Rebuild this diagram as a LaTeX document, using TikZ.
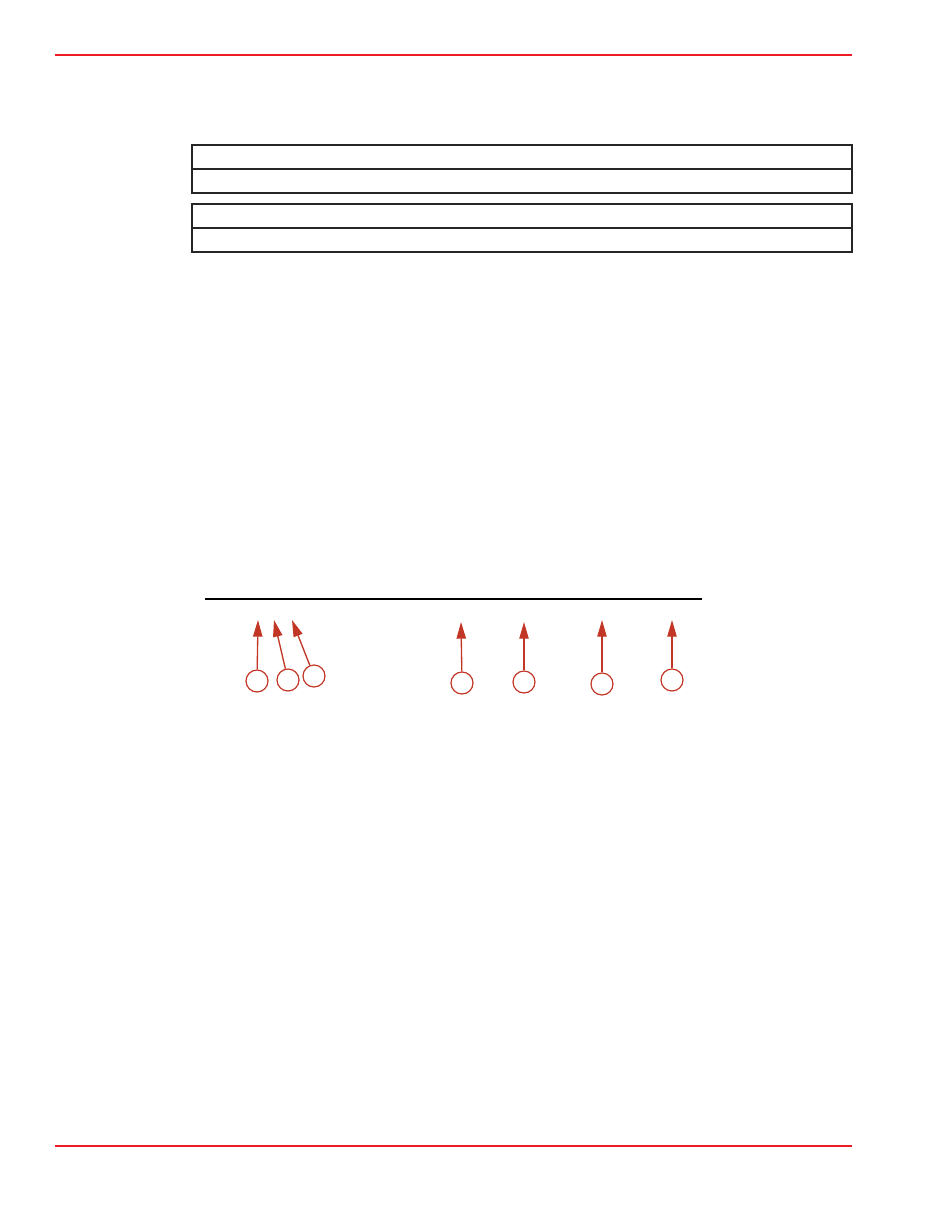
\documentclass[tikz,border=0pt]{standalone}
\usepackage{tikz}
\usetikzlibrary{arrows.meta,positioning}

\definecolor{pagered}{RGB}{237,28,36}
\definecolor{calloutred}{RGB}{194,54,38}

\begin{document}
\begin{tikzpicture}[x=0.75pt,y=-0.75pt, pagerule/.style={draw=pagered,line width=1.4pt}, tablerule/.style={draw=black!85,line width=1.2pt}, partline/.style={draw=black,line width=1.6pt}, callout/.style={circle,draw=calloutred,line width=0.9pt,minimum size=16.5pt,inner sep=0pt}, pointer/.style={draw=calloutred,line width=1pt,-{Triangle[length=12.5pt,width=7pt]}}]
\useasboundingbox (0,0) rectangle (935,1210);

% page rules
\draw [pagerule] (55,55) -- (852,55);
\draw [pagerule] (55,1146) -- (852,1146);

% tables
\draw [tablerule] (192,145) rectangle (852,193);
\draw [tablerule] (192,169) -- (852,169);
\draw [tablerule] (192,204) rectangle (852,252);
\draw [tablerule] (192,228) -- (852,228);

% part
\draw [partline] (205,599) -- (702,599);

% callouts
\node (c1)[callout] at (257,681) {};
\node (c2)[callout] at (288,680) {};
\node (c3)[callout] at (314,676) {};
\node (c4)[callout] at (462,683) {};
\node (c5)[callout] at (524,682) {};
\node (c6)[callout] at (602,684) {};
\node (c7)[callout] at (672,680) {};

\coordinate (t1) at (258,620);
\coordinate (t2) at (274,620);
\coordinate (t3) at (292,620);
\coordinate (t4) at (461,622);
\coordinate (t5) at (524,622);
\coordinate (t6) at (602,620);
\coordinate (t7) at (672,620);

\draw [pointer] (c1) to (t1);
\draw [pointer] (c2) to (t2);
\draw [pointer] (c3) to (t3);
\draw [pointer] (c4) to (t4);
\draw [pointer] (c5) to (t5);
\draw [pointer] (c6) to (t6);
\draw [pointer] (c7) to (t7);
\end{tikzpicture}
\end{document}
